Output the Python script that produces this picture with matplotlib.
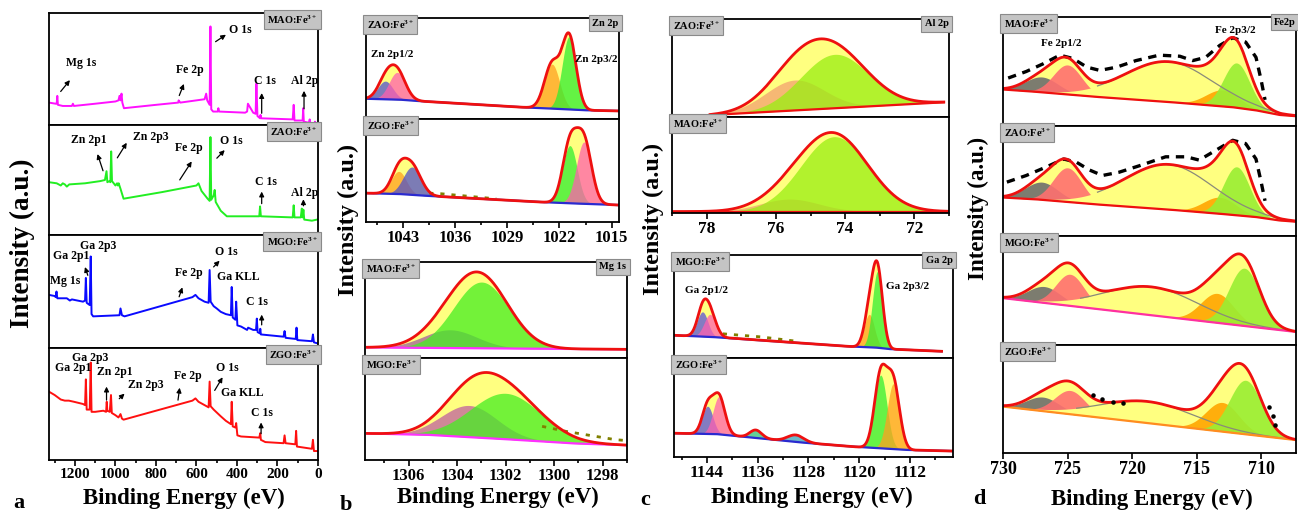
import numpy as np
import matplotlib.pyplot as plt

plt.rcParams['font.family'] = 'Liberation Serif'
plt.rcParams['font.weight'] = 'bold'
plt.rcParams['mathtext.fontset'] = 'custom'
plt.rcParams['mathtext.rm'] = 'Liberation Serif:bold'
plt.rcParams['mathtext.it'] = 'Liberation Serif:bold'
plt.rcParams['mathtext.bf'] = 'Liberation Serif:bold'
plt.rcParams['axes.linewidth'] = 1.3

# ---------------- panel a : survey spectra (binding energy, normalised intensity) ----------------
mao_be = [1328, 1295, 1290, 1287, 1284, 1260, 1240, 1215, 1210, 1205, 1100, 1000, 985, 980, 975,
          970, 966, 958, 800, 690, 688, 680, 560, 552, 547, 535, 531, 527, 518, 495,
          492, 488, 360, 350, 346, 320, 308, 304, 299, 286, 284, 281, 125, 120, 116,
          76, 73, 70, 45, 41, 37, 18, 15, 12, 0]
mao_int = [0.20, 0.19, 0.19, 0.26, 0.18, 0.17, 0.17, 0.17, 0.19, 0.17, 0.19, 0.21, 0.22, 0.26, 0.22,
           0.28, 0.20, 0.15, 0.18, 0.20, 0.22, 0.20, 0.23, 0.28, 0.22, 0.18, 0.88, 0.14, 0.12, 0.12,
           0.15, 0.12, 0.11, 0.12, 0.19, 0.11, 0.10, 0.37, 0.08, 0.06, 0.09, 0.06, 0.05, 0.18, 0.04,
           0.04, 0.15, 0.03, 0.02, 0.05, 0.01, 0.01, 0.03, 0.0, 0.0]

zao_be = [1328, 1290, 1270, 1260, 1250, 1240, 1228, 1150, 1075, 1052, 1044, 1040, 1030, 1025, 1021,
          1017, 1000, 992, 988, 984, 975, 960, 770, 600, 590, 575, 545, 535, 531, 527,
          515, 510, 505, 480, 450, 290, 286, 282, 125, 120, 116, 85, 80, 76, 72,
          68, 30, 5, 0]
zao_int = [0.48, 0.47, 0.45, 0.47, 0.46, 0.44, 0.46, 0.47, 0.49, 0.50, 0.58, 0.48, 0.49, 0.48, 0.76,
           0.49, 0.45, 0.47, 0.45, 0.47, 0.42, 0.33, 0.39, 0.45, 0.47, 0.40, 0.33, 0.31, 0.89, 0.32,
           0.36, 0.41, 0.30, 0.22, 0.17, 0.17, 0.26, 0.17, 0.16, 0.27, 0.16, 0.16, 0.24, 0.16, 0.23,
           0.14, 0.13, 0.14, 0.14]

mgo_be = [1328, 1300, 1295, 1291, 1287, 1240, 1225, 1215, 1160, 1150, 1146, 1142, 1127, 1122, 1118,
          1110, 980, 975, 968, 955, 620, 605, 590, 560, 540, 535, 530, 515, 500, 480,
          455, 430, 426, 421, 408, 404, 398, 380, 350, 345, 320, 306, 302, 298, 287,
          285, 282, 170, 165, 160, 110, 106, 102, 30, 25, 20, 0]
mgo_int = [0.47, 0.46, 0.45, 0.50, 0.44, 0.44, 0.42, 0.43, 0.41, 0.42, 0.62, 0.40, 0.38, 0.81, 0.30,
           0.28, 0.29, 0.35, 0.29, 0.28, 0.45, 0.47, 0.44, 0.41, 0.40, 0.69, 0.41, 0.37, 0.35, 0.32,
           0.30, 0.29, 0.54, 0.27, 0.25, 0.41, 0.20, 0.19, 0.16, 0.18, 0.16, 0.16, 0.26, 0.14, 0.13,
           0.17, 0.12, 0.10, 0.15, 0.09, 0.08, 0.18, 0.07, 0.06, 0.12, 0.05, 0.04]

zgo_be = [1328, 1300, 1270, 1250, 1230, 1205, 1160, 1150, 1146, 1142, 1127, 1122, 1118, 1100, 1060,
          1046, 1043, 1040, 1028, 1022, 1018, 1000, 985, 975, 968, 960, 620, 605, 590, 560,
          540, 535, 530, 515, 480, 455, 430, 426, 421, 408, 404, 398, 380, 290, 285,
          282, 260, 170, 165, 160, 112, 108, 104, 30, 25, 20, 0]
zgo_int = [0.61, 0.58, 0.54, 0.53, 0.53, 0.52, 0.50, 0.49, 0.72, 0.45, 0.45, 0.87, 0.43, 0.43, 0.44,
           0.43, 0.52, 0.44, 0.43, 0.58, 0.42, 0.40, 0.38, 0.41, 0.37, 0.36, 0.53, 0.55, 0.52, 0.49,
           0.47, 0.70, 0.48, 0.45, 0.39, 0.35, 0.32, 0.52, 0.30, 0.29, 0.33, 0.22, 0.21, 0.20, 0.24,
           0.18, 0.16, 0.15, 0.22, 0.15, 0.14, 0.26, 0.12, 0.10, 0.18, 0.08, 0.08]

# peak labels: text, text position, arrow head, arrow tail (None = no arrow)
mao_notes = [('Mg 1s', 1167, 0.55, (1216, 0.42), (1279, 0.28)),
             ('Fe 2p', 632, 0.49, (657, 0.39), (690, 0.24)),
             ('O 1s', 385, 0.85, (443, 0.82), (517, 0.73)),
             ('C 1s', 260, 0.39, (278, 0.31), (278, 0.08)),
             ('Al 2p', 64, 0.39, (69, 0.33), (69, 0.12))]
zao_notes = [('Zn 2p1', 1131, 0.86, (1093, 0.76), (1057, 0.56)),
             ('Zn 2p3', 826, 0.89, (937, 0.86), (998, 0.68)),
             ('Fe 2p', 640, 0.79, (616, 0.69), (690, 0.48)),
             ('O 1s', 426, 0.85, (451, 0.79), (509, 0.68)),
             ('C 1s', 258, 0.48, (278, 0.42), (278, 0.26)),
             ('Al 2p', 64, 0.38, (72, 0.35), (72, 0.24))]
mgo_notes = [('Ga 2p3', 1085, 0.90, None, None),
             ('Ga 2p1', 1216, 0.81, (1155, 0.74), (1132, 0.62)),
             ('Mg 1s', 1249, 0.59, None, None),
             ('Fe 2p', 640, 0.66, (665, 0.56), (690, 0.43)),
             ('O 1s', 451, 0.85, (476, 0.79), (525, 0.70)),
             ('Ga KLL', 393, 0.63, None, None),
             ('C 1s', 300, 0.41, (278, 0.32), (278, 0.18))]
zgo_notes = [('Ga 2p3', 1126, 0.91, None, None),
             ('Ga 2p1', 1211, 0.82, None, None),
             ('Zn 2p1', 1002, 0.79, (1044, 0.68), (1044, 0.51)),
             ('Zn 2p3', 852, 0.67, (945, 0.61), (991, 0.53)),
             ('Fe 2p', 645, 0.75, (681, 0.67), (693, 0.51)),
             ('O 1s', 448, 0.82, (464, 0.76), (517, 0.60)),
             ('Ga KLL', 374, 0.60, None, None),
             ('C 1s', 278, 0.42, (281, 0.36), (281, 0.21))]

# ---------------- fitted core levels: background anchors and peaks (centre, FWHM, height) ----------------
zn_zao_span = (1047.8, 1014.2)
zn_zao_bg = [(1047.8, 0.20), (1043, 0.19), (1040.5, 0.175), (1025.5, 0.11), (1022, 0.10), (1018, 0.085), (1014.2, 0.08)]
zn_zao_peaks = [(1045.4, 2.4, 0.18), (1043.8, 2.6, 0.27), (1023.0, 2.4, 0.44), (1020.7, 2.2, 0.72)]

zn_zgo_span = (1047.8, 1014.2)
zn_zgo_bg = [(1047.8, 0.28), (1043, 0.27), (1039, 0.25), (1023.5, 0.19), (1020, 0.18), (1016.3, 0.17), (1014.2, 0.165)]
zn_zgo_peaks = [(1043.6, 2.4, 0.22), (1041.8, 2.8, 0.27), (1020.6, 2.3, 0.56), (1018.7, 2.4, 0.60)]
zn_zgo_raw = [(1039.5, 0.28), (1038, 0.275), (1036.5, 0.265), (1035, 0.255), (1033.5, 0.245), (1032, 0.235), (1030.5, 0.225)]

mg_mao_span = (1307.7, 1297.0)
mg_mao_bg = [(1307.7, 0.11), (1305, 0.105), (1300, 0.095), (1297, 0.09)]
mg_mao_peaks = [(1304.3, 2.6, 0.19), (1303.0, 2.7, 0.69)]

mg_mgo_span = (1307.7, 1297.0)
mg_mgo_bg = [(1307.7, 0.26), (1305, 0.245), (1301, 0.19), (1299, 0.16), (1297, 0.145)]
mg_mgo_peaks = [(1303.5, 2.7, 0.31), (1302.0, 3.4, 0.45)]
mg_mgo_raw = [(1300.5, 0.33), (1299.5, 0.28), (1298.5, 0.24), (1297.5, 0.20), (1297.0, 0.19)]

al_zao_span = (77.9, 71.15)
al_zao_bg = [(77.9, 0.02), (71.15, 0.15)]
al_zao_peaks = [(75.45, 2.0, 0.31), (74.3, 2.3, 0.55)]

al_mao_span = (79.0, 71.0)
al_mao_bg = [(79.0, 0.015), (71.0, 0.015)]
al_mao_peaks = [(75.6, 2.0, 0.13), (74.3, 2.3, 0.78)]

ga_mgo_span = (1149.0, 1107.0)
ga_mgo_bg = [(1149, 0.22), (1142, 0.20), (1121, 0.11), (1117, 0.10), (1114.9, 0.085), (1107, 0.065)]
ga_mgo_peaks = [(1144.7, 2.0, 0.24), (1143.5, 2.2, 0.22), (1118.4, 1.9, 0.32), (1117.1, 1.9, 0.74)]
ga_mgo_raw = [(1141.5, 0.235), (1139.5, 0.225), (1137.5, 0.215), (1135.5, 0.205), (1133.5, 0.19), (1131.5, 0.175), (1129.5, 0.16)]

ga_zgo_span = (1149.0, 1105.2)
ga_zgo_bg = [(1149, 0.24), (1142, 0.23), (1139, 0.21), (1128, 0.14), (1120, 0.10), (1112, 0.07), (1105.2, 0.06)]
ga_zgo_peaks = [(1143.9, 2.0, 0.28), (1142.1, 2.2, 0.38), (1136.3, 2.2, 0.08), (1130.0, 3.0, 0.07),
                (1116.6, 2.3, 0.74), (1114.6, 2.3, 0.66)]

fe_span = (730.0, 707.3)
fe_mao_bg = [(730, 0.335), (727, 0.31), (722, 0.26), (716, 0.21), (712, 0.17), (710.2, 0.14), (708.5, 0.10), (707.3, 0.09)]
fe_mao_peaks = [(727.0, 3.0, 0.14), (725.0, 2.6, 0.27), (717.2, 8.0, 0.37), (713.0, 3.0, 0.15), (711.9, 2.4, 0.41)]
fe_mao_raw = [(729.6, 0.44), (728.2, 0.50), (726.9, 0.57), (725.6, 0.65), (724.6, 0.62), (723.5, 0.54),
              (722.5, 0.51), (721.2, 0.54), (719.7, 0.60), (717.9, 0.65), (716.3, 0.64), (715.3, 0.60),
              (714.3, 0.63), (713.2, 0.74), (712.2, 0.81), (711.2, 0.77), (710.4, 0.63), (710.0, 0.42), (709.7, 0.24)]

fe_zao_bg = [(730, 0.35), (727, 0.33), (722, 0.28), (716, 0.23), (712, 0.19), (710.2, 0.17), (708.5, 0.14), (707.3, 0.13)]
fe_zao_peaks = [(727.0, 3.0, 0.16), (725.0, 2.6, 0.31), (717.2, 8.0, 0.41), (713.2, 3.0, 0.15), (711.9, 2.4, 0.44)]
fe_zao_raw = [(729.7, 0.49), (728.2, 0.55), (726.6, 0.63), (725.3, 0.70), (724.3, 0.67), (723.3, 0.60),
              (722.3, 0.55), (721.0, 0.58), (719.4, 0.64), (717.4, 0.72), (715.8, 0.72), (714.8, 0.69),
              (713.5, 0.78), (712.2, 0.87), (711.2, 0.84), (710.4, 0.70), (710.0, 0.49), (709.7, 0.32)]

fe_mgo_bg = [(730, 0.43), (707.3, 0.12)]
fe_mgo_peaks = [(726.8, 3.0, 0.15), (724.8, 2.6, 0.29), (718.5, 8.5, 0.26), (713.4, 3.0, 0.27), (711.3, 2.8, 0.53)]

fe_zgo_bg = [(730, 0.43), (707.3, 0.12)]
fe_zgo_peaks = [(726.9, 3.0, 0.13), (724.8, 2.8, 0.22), (718.8, 8.5, 0.20), (713.0, 3.0, 0.27), (711.2, 2.9, 0.50)]
fe_zgo_raw = [(723.0, 0.54), (722.3, 0.50), (721.5, 0.47), (720.7, 0.46), (709.4, 0.43), (709.1, 0.34), (708.9, 0.26)]

YELLOW = '#ffff80'
SAT = 'sat'

fig = plt.figure(figsize=(12.98, 5.15), dpi=100)


def px_axes(x0, y0, x1, y1):
    return fig.add_axes([x0 / 1298., 1 - y1 / 515., (x1 - x0) / 1298., (y1 - y0) / 515.])


def tag(ax, s, side='left'):
    x = 0.998 if side == 'right' else 0.002
    ax.text(x, 0.995, s, transform=ax.transAxes, ha=side, va='top', fontsize=7.5, zorder=10,
            bbox=dict(boxstyle='square,pad=0.3', fc='#c4c4c4', ec='#8a8a8a', lw=0.8))


def xticks(ax, major, minor, size):
    ax.set_xticks(major)
    ax.set_xticks(minor, minor=True)
    ax.tick_params(axis='x', which='both', direction='out', width=1.2, labelsize=size, pad=2)
    ax.tick_params(axis='x', which='major', length=4)
    ax.tick_params(axis='x', which='minor', length=2.5)


def clean(ax, xlim):
    ax.set_xlim(*xlim)
    ax.set_ylim(0, 1)
    ax.set_yticks([])
    ax.set_xticks([])


def survey(ax, be, inten, color, name, notes):
    clean(ax, (1328, 0))
    ax.plot(be, inten, color=color, lw=1.4)
    for lab, tx, ty, head, tail in notes:
        ax.text(tx, ty, lab, ha='center', va='center', fontsize=8.5)
        if head is not None:
            ax.annotate('', xy=head, xytext=tail,
                        arrowprops=dict(arrowstyle='-|>', color='k', lw=0.9, mutation_scale=7))
    tag(ax, name, 'right')


def gauss(x, c, w, h):
    return h * np.exp(-4 * np.log(2) * (x - c) ** 2 / w ** 2)


def fit(ax, xlim, span, bg_pts, peaks, colors, base='#2a2ad0', raw=None, raw_color='#808000',
        raw_dash=(1.5, 2.5), raw_lw=2, alpha=0.75):
    clean(ax, xlim)
    x = np.linspace(min(span), max(span), 900)
    bx, by = zip(*sorted(bg_pts))
    bg = np.interp(x, bx, by)
    comps = [gauss(x, *p) for p in peaks]
    env = bg + np.sum(comps, axis=0)
    ax.fill_between(x, bg, env, color=YELLOW, lw=0)
    for comp, col, p in zip(comps, colors, peaks):
        if col == SAT:
            ax.fill_between(x, bg, bg + comp, color=YELLOW, lw=0)
            m = x < p[0] + 5.5
            ax.plot(x[m], (bg + comp)[m], color='#8a8a7a', lw=0.9)
        else:
            ax.fill_between(x, bg, bg + comp, color=col, alpha=alpha, lw=0)
    ax.plot(x, bg, color=base, lw=1.6)
    if raw is not None:
        rx, ry = zip(*raw)
        ax.plot(rx, ry, color=raw_color, lw=raw_lw, dashes=raw_dash)
    ax.plot(x, env, color='#ee1010', lw=2)


# ---------------- panel a ----------------
a1 = px_axes(49, 13, 318, 125)
a2 = px_axes(49, 125, 318, 235)
a3 = px_axes(49, 235, 318, 348)
a4 = px_axes(49, 348, 318, 460)
survey(a1, mao_be, mao_int, '#ff10ff', 'MAO:Fe$^{3+}$', mao_notes)
survey(a2, zao_be, zao_int, '#22ee22', 'ZAO:Fe$^{3+}$', zao_notes)
survey(a3, mgo_be, mgo_int, '#0a0aff', 'MGO:Fe$^{3+}$', mgo_notes)
survey(a4, zgo_be, zgo_int, '#ff1010', 'ZGO:Fe$^{3+}$', zgo_notes)
xticks(a4, [1200, 1000, 800, 600, 400, 200, 0], [1300, 1100, 900, 700, 500, 300, 100], 11)

# ---------------- panel b ----------------
zn_lim = (1048, 1014)
b1 = px_axes(366, 18, 619, 119)
b2 = px_axes(366, 119, 619, 222)
fit(b1, zn_lim, zn_zao_span, zn_zao_bg, zn_zao_peaks, ['#5050d0', '#ff5fae', '#ffa020', '#30ee30'])
fit(b2, zn_lim, zn_zgo_span, zn_zgo_bg, zn_zgo_peaks, ['#ffa020', '#5050c8', '#30ee30', '#ff5fae'],
    raw=zn_zgo_raw)
tag(b1, 'ZAO:Fe$^{3+}$')
tag(b1, 'Zn 2p', 'right')
tag(b2, 'ZGO:Fe$^{3+}$')
b1.text(1044.5, 0.64, 'Zn 2p1/2', ha='center', va='center', fontsize=8)
b1.text(1017.0, 0.59, 'Zn 2p3/2', ha='center', va='center', fontsize=8)
xticks(b2, [1043, 1036, 1029, 1022, 1015], [1046.5, 1039.5, 1032.5, 1025.5, 1018.5], 12)

mg_lim = (1307.8, 1297.0)
b3 = px_axes(365, 262, 627, 358)
b4 = px_axes(365, 358, 627, 460)
fit(b3, mg_lim, mg_mao_span, mg_mao_bg, mg_mao_peaks, ['#a0609a', '#44ee22'], base='#ff30ff')
fit(b4, mg_lim, mg_mgo_span, mg_mgo_bg, mg_mgo_peaks, ['#c0609f', '#44ee22'], base='#ff30ff',
    raw=mg_mgo_raw)
tag(b3, 'MAO:Fe$^{3+}$')
tag(b3, 'Mg 1s', 'right')
tag(b4, 'MGO:Fe$^{3+}$')
xticks(b4, [1306, 1304, 1302, 1300, 1298], [1307, 1305, 1303, 1301, 1299, 1297], 12)

# ---------------- panel c ----------------
al_lim = (79.0, 71.0)
c1 = px_axes(672, 19, 949, 117)
c2 = px_axes(672, 117, 949, 213)
fit(c1, al_lim, al_zao_span, al_zao_bg, al_zao_peaks, ['#f4a070', '#99ee11'], base='#ee1010')
fit(c2, al_lim, al_mao_span, al_mao_bg, al_mao_peaks, ['#f4a070', '#99ee11'], base='#ee1010')
tag(c1, 'ZAO:Fe$^{3+}$')
tag(c1, 'Al 2p', 'right')
tag(c2, 'MAO:Fe$^{3+}$')
xticks(c2, [78, 76, 74, 72], [79, 77, 75, 73, 71], 12.5)

ga_lim = (1149.2, 1105.2)
c3 = px_axes(674, 255, 953, 358)
c4 = px_axes(674, 358, 953, 457)
fit(c3, ga_lim, ga_mgo_span, ga_mgo_bg, ga_mgo_peaks, ['#5a50d8', '#ff60b0', '#ffa020', '#33ee33'],
    raw=ga_mgo_raw)
fit(c4, ga_lim, ga_zgo_span, ga_zgo_bg, ga_zgo_peaks,
    ['#5a50d8', '#ff60b0', '#30c0a0', '#3aa0e0', '#33ee33', '#ffa020'])
tag(c3, 'MGO:Fe$^{3+}$')
tag(c3, 'Ga 2p', 'right')
tag(c4, 'ZGO:Fe$^{3+}$')
c3.text(1144.0, 0.66, 'Ga 2p1/2', ha='center', va='center', fontsize=8)
c3.text(1112.3, 0.69, 'Ga 2p3/2', ha='center', va='center', fontsize=8)
xticks(c4, [1144, 1136, 1128, 1120, 1112], [1148, 1140, 1132, 1124, 1116, 1108], 12.5)

# ---------------- panel d ----------------
fe_lim = (730.0, 707.3)
fe_cols = ['#6e6e6e', '#ff7070', SAT, '#ffa500', '#99ee33']
d1 = px_axes(1003, 17, 1296, 126)
d2 = px_axes(1003, 126, 1296, 236)
d3 = px_axes(1003, 236, 1296, 345)
d4 = px_axes(1003, 345, 1296, 453)
fit(d1, fe_lim, fe_span, fe_mao_bg, fe_mao_peaks, fe_cols, base='#ee1010', raw=fe_mao_raw,
    raw_color='k', raw_dash=(2.5, 2.0), raw_lw=2.4, alpha=0.9)
fit(d2, fe_lim, fe_span, fe_zao_bg, fe_zao_peaks, fe_cols, base='#ee1010', raw=fe_zao_raw,
    raw_color='k', raw_dash=(2.5, 2.0), raw_lw=2.4, alpha=0.9)
fit(d3, fe_lim, fe_span, fe_mgo_bg, fe_mgo_peaks, fe_cols, base='#ff30a0', alpha=0.9)
fit(d4, fe_lim, fe_span, fe_zgo_bg, fe_zgo_peaks, fe_cols, base='#ff8c20', alpha=0.9)
rx, ry = zip(*fe_zgo_raw)
d4.scatter(rx, ry, s=5, color='k', zorder=5)
tag(d1, 'MAO:Fe$^{3+}$')
tag(d1, 'Fe2p', 'right')
tag(d2, 'ZAO:Fe$^{3+}$')
tag(d3, 'MGO:Fe$^{3+}$')
tag(d4, 'ZGO:Fe$^{3+}$')
d1.text(725.5, 0.76, 'Fe 2p1/2', ha='center', va='center', fontsize=8)
d1.text(712.0, 0.88, 'Fe 2p3/2', ha='center', va='center', fontsize=8)
xticks(d4, [730, 725, 720, 715, 710], [], 13)

# ---------------- shared labels ----------------
for x, y, s in [(22, 243, 19.5), (348, 220, 17.5), (653, 219, 17.5), (978, 208, 16.5)]:
    fig.text(x / 1298., 1 - y / 515., 'Intensity (a.u.)', rotation=90, ha='center', va='center', fontsize=s)
for x, y in [(184, 498), (498, 497), (812, 497), (1152, 499)]:
    fig.text(x / 1298., 1 - y / 515., 'Binding Energy (eV)', ha='center', va='center', fontsize=16.5)
for x, y, s in [(19, 503, 'a'), (346, 505, 'b'), (645, 500, 'c'), (979, 499, 'd')]:
    fig.text(x / 1298., 1 - y / 515., s, ha='center', va='center', fontsize=16)

fig.savefig('out.png', dpi=100)
